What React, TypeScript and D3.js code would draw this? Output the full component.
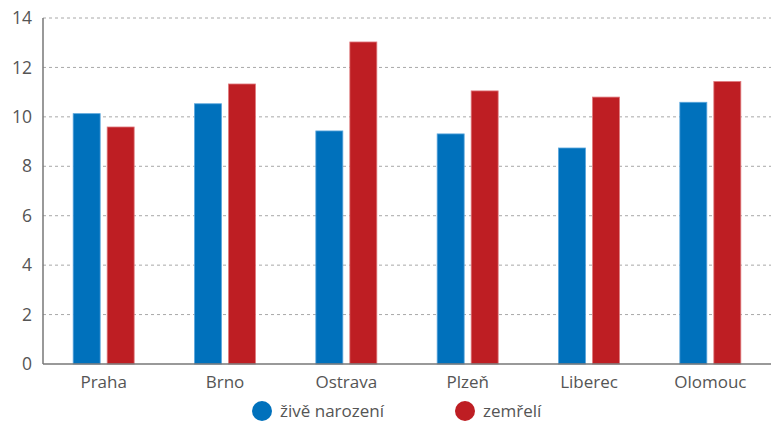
import React from "react";
import * as d3 from "d3";

const categories = ["Praha", "Brno", "Ostrava", "Plzeň", "Liberec", "Olomouc"];
const births = [10.13, 10.53, 9.43, 9.31, 8.74, 10.59];
const deaths = [9.59, 11.33, 13.03, 11.05, 10.8, 11.43];
const seriesNames = ["živě narození", "zemřelí"];
const yTicks = [0, 2, 4, 6, 8, 10, 12, 14];

const W = 771;
const H = 423;
const left = 43;
const right = 771;
const top = 18;
const bottom = 364;
const colors = ["#0071bc", "#be1e23"];
const strokes = ["#5aa6dc", "#e07a7e"];
const font = "'Open Sans', 'Noto Sans', sans-serif";

export default function App() {
  const x = d3.scaleBand<string>().domain(categories).range([left, right]).paddingInner(0).paddingOuter(0);
  const y = d3.scaleLinear().domain([0, 14]).range([bottom, top]);
  const bw = 27;
  const gap = 7;
  const series = [births, deaths];
  return (
    <svg width={W} height={H} style={{ position: "absolute", left: 0, top: 0 }}>
      <rect width={W} height={H} fill="#fff" />
      {yTicks.filter((t) => t > 0).map((t) => (
        <line key={t} x1={left} x2={right} y1={y(t)} y2={y(t)} stroke="#a8a8a8" strokeDasharray="3,3" strokeWidth={1} />
      ))}
      {categories.map((c, i) => {
        const cx = (x(c) as number) + x.bandwidth() / 2;
        return series.map((s, j) => {
          const x0 = j === 0 ? cx - gap / 2 - bw : cx + gap / 2;
          return (
            <rect key={c + j} x={x0} y={y(s[i])} width={bw} height={bottom - y(s[i])} fill={colors[j]} stroke={strokes[j]} strokeWidth={0.8} />
          );
        });
      })}
      <line x1={left} x2={left} y1={top} y2={bottom} stroke="#777" strokeWidth={1.5} />
      <line x1={left} x2={right} y1={bottom} y2={bottom} stroke="#777" strokeWidth={1.5} />
      {yTicks.map((t) => (
        <text key={t} x={32} y={y(t)} dy="0.35em" textAnchor="end" fontFamily={font} fontSize={17.5} fill="#555">{t}</text>
      ))}
      {categories.map((c) => (
        <text key={c} x={(x(c) as number) + x.bandwidth() / 2} y={388} textAnchor="middle" fontFamily={font} fontSize={17} fill="#555">{c}</text>
      ))}
      {seriesNames.map((n, j) => {
        const lx = j === 0 ? 262 : 465;
        return (
          <g key={n}>
            <circle cx={lx} cy={411} r={10} fill={colors[j]} />
            <text x={lx + 18} y={411} dy="0.35em" fontFamily={font} fontSize={17} fill="#555">{n}</text>
          </g>
        );
      })}
    </svg>
  );
}
